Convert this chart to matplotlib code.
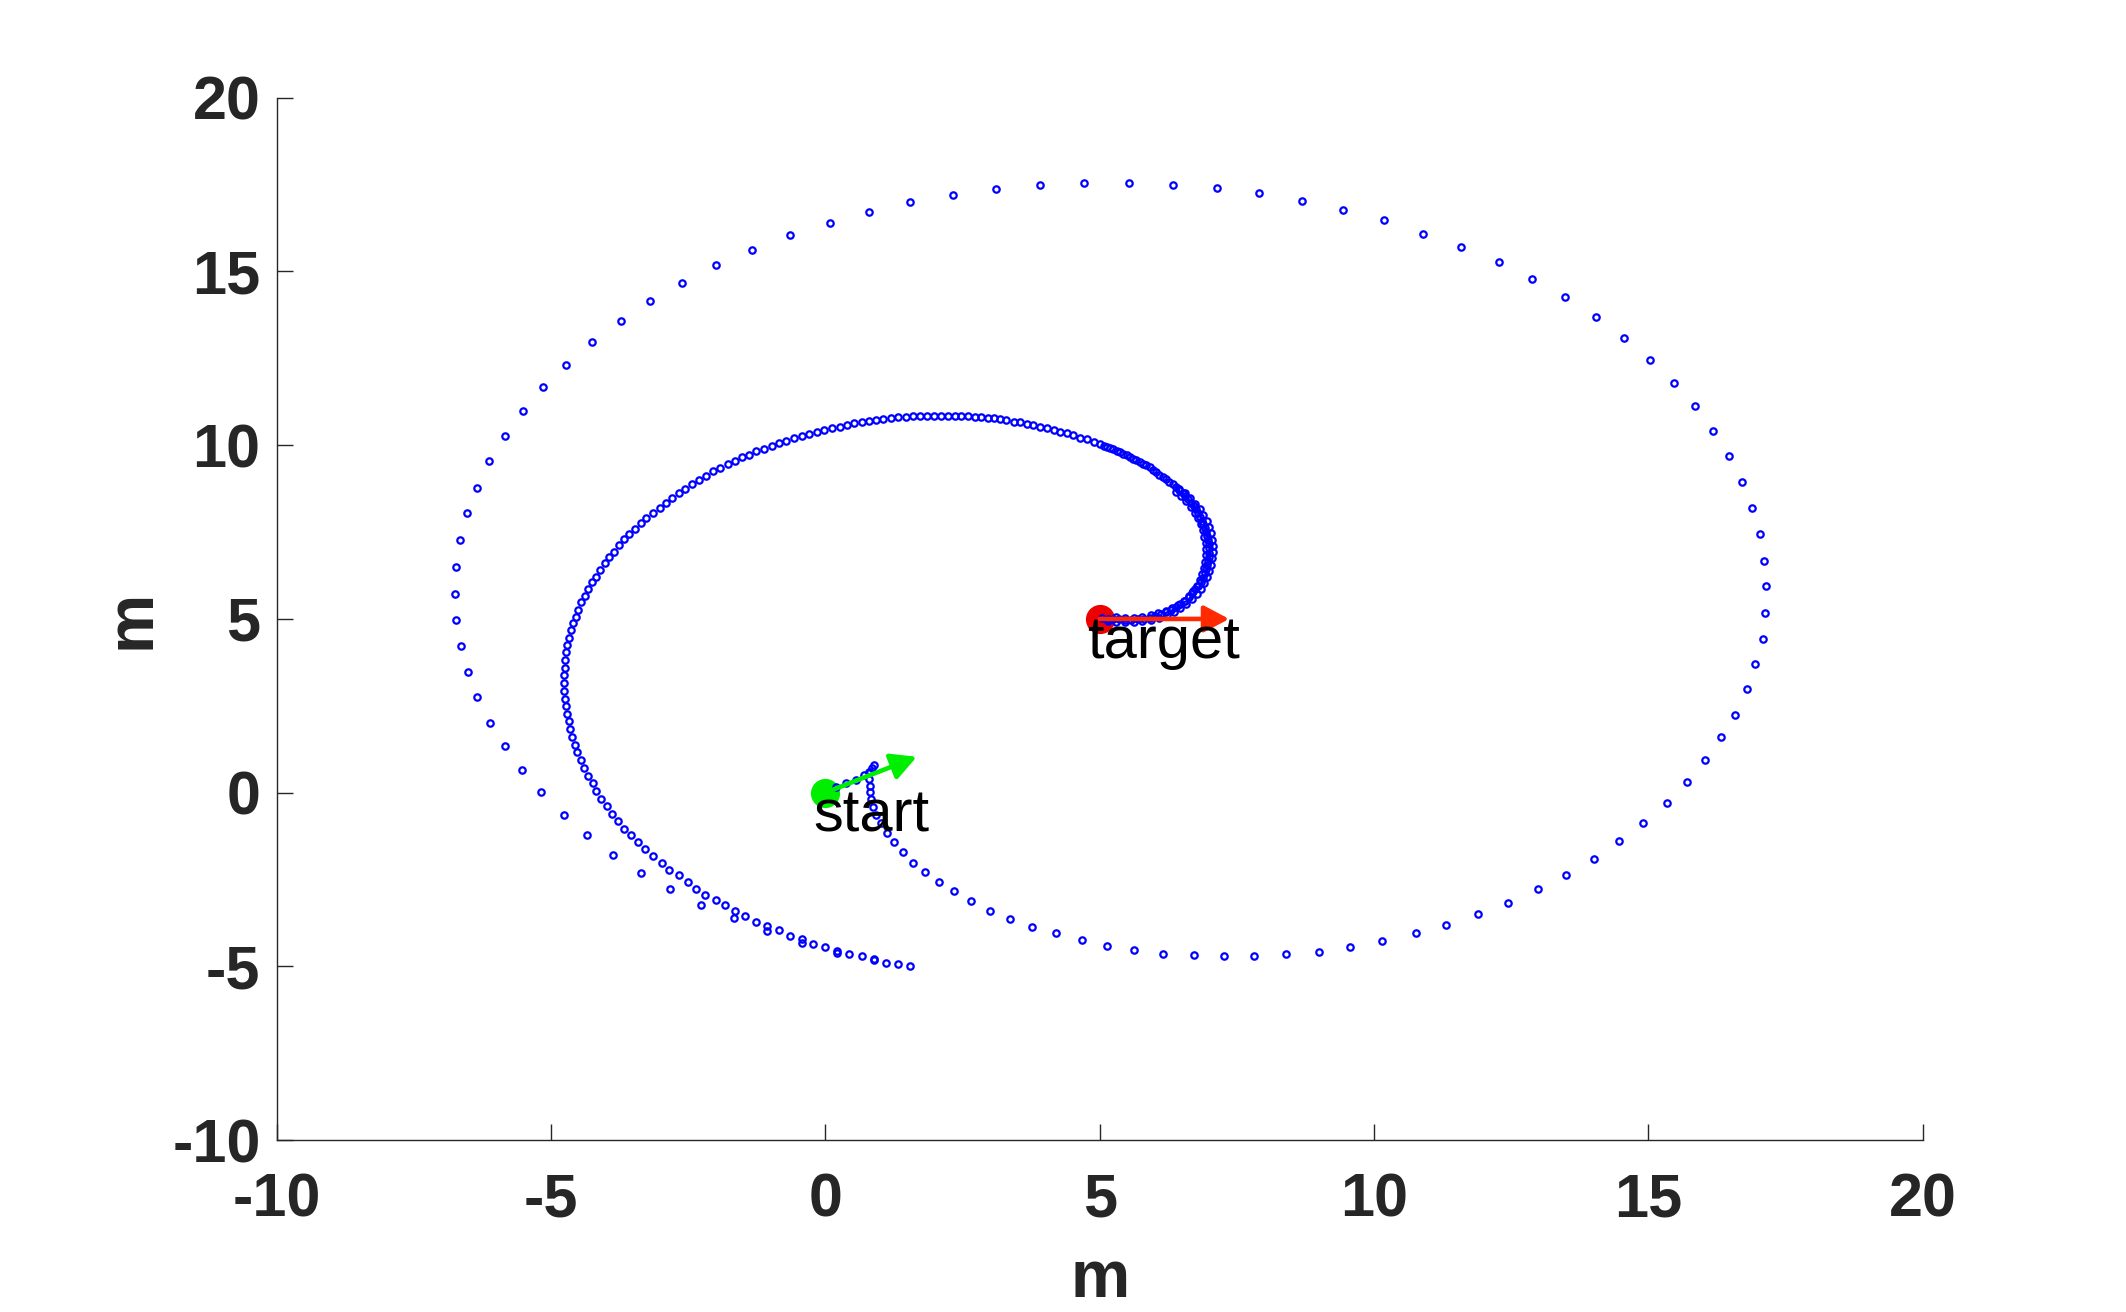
import matplotlib
matplotlib.use('Agg')
import matplotlib.pyplot as plt
import numpy as np

plt.rcParams['font.family'] = ['Liberation Sans', 'DejaVu Sans']
plt.rcParams['axes.unicode_minus'] = False

# first leg: start -> big outer loop (sparse samples)
outer_x = [0.19, 0.38, 0.56, 0.70, 0.79, 0.85, 0.89, 0.82, 0.79, 0.81, 0.81, 0.83, 0.86, 0.93,
           1.02, 1.13, 1.26, 1.42, 1.60, 1.82, 2.07, 2.34, 2.65, 3.00, 3.37, 3.77, 4.21, 4.67,
           5.14, 5.63, 6.15, 6.71, 7.26, 7.81, 8.40, 8.99, 9.57, 10.15, 10.76, 11.31, 11.89,
           12.44, 12.99, 13.50, 14.00, 14.46, 14.90, 15.33, 15.70, 16.04, 16.33, 16.58, 16.79,
           16.95, 17.08, 17.13, 17.15, 17.11, 17.04, 16.89, 16.70, 16.47, 16.18, 15.85, 15.47,
           15.03, 14.56, 14.04, 13.48, 12.88, 12.27, 11.59, 10.89, 10.19, 9.44, 8.69, 7.91,
           7.13, 6.33, 5.53, 4.72, 3.92, 3.11, 2.33, 1.55, 0.80, 0.08, -0.64, -1.34, -1.99,
           -2.61, -3.20, -3.73, -4.26, -4.72, -5.14, -5.51, -5.83, -6.12, -6.35, -6.53, -6.65,
           -6.73, -6.74, -6.73, -6.64, -6.51, -6.34, -6.11, -5.83, -5.53, -5.18, -4.77, -4.34,
           -3.87, -3.36, -2.83, -2.26, -1.66, -1.06, -0.43, 0.22, 0.88, 1.11, 1.33, 1.55]
outer_y = [0.15, 0.27, 0.38, 0.50, 0.61, 0.71, 0.79, 0.60, 0.39, 0.20, 0.01, -0.19, -0.42, -0.65,
           -0.88, -1.17, -1.43, -1.72, -2.01, -2.29, -2.58, -2.84, -3.13, -3.39, -3.62, -3.85,
           -4.05, -4.25, -4.40, -4.54, -4.63, -4.68, -4.71, -4.71, -4.65, -4.57, -4.45, -4.28,
           -4.05, -3.82, -3.50, -3.16, -2.78, -2.38, -1.92, -1.40, -0.88, -0.31, 0.30, 0.93,
           1.59, 2.25, 2.97, 3.69, 4.41, 5.16, 5.94, 6.68, 7.43, 8.18, 8.93, 9.68, 10.40, 11.12,
           11.78, 12.44, 13.07, 13.68, 14.25, 14.77, 15.26, 15.69, 16.09, 16.47, 16.76, 17.02,
           17.25, 17.39, 17.48, 17.53, 17.53, 17.48, 17.36, 17.19, 16.99, 16.70, 16.38, 16.04,
           15.61, 15.17, 14.66, 14.14, 13.56, 12.96, 12.32, 11.66, 10.97, 10.25, 9.53, 8.78,
           8.04, 7.27, 6.48, 5.73, 4.96, 4.21, 3.46, 2.74, 2.02, 1.33, 0.64, 0.01, -0.63, -1.23,
           -1.78, -2.30, -2.77, -3.22, -3.61, -3.99, -4.32, -4.60, -4.82, -4.89, -4.94, -4.99]

# second leg: inner spiral back to the target (dense samples)
inner_x = [0.88, 0.66, 0.44, 0.22, 0.00, -0.22, -0.43, -0.64, -0.85, -1.06, -1.26, -1.46, -1.64,
           -1.82, -2.00, -2.19, -2.35, -2.51, -2.67, -2.84, -2.98, -3.14, -3.28, -3.41, -3.54,
           -3.66, -3.78, -3.88, -3.98, -4.08, -4.17, -4.24, -4.32, -4.39, -4.46, -4.52, -4.57,
           -4.61, -4.66, -4.68, -4.71, -4.73, -4.75, -4.76, -4.76, -4.76, -4.75, -4.74, -4.72,
           -4.70, -4.67, -4.63, -4.59, -4.55, -4.51, -4.45, -4.38, -4.32, -4.25, -4.17, -4.10,
           -4.02, -3.94, -3.85, -3.76, -3.66, -3.57, -3.46, -3.35, -3.26, -3.14, -3.02, -2.91,
           -2.80, -2.67, -2.55, -2.43, -2.30, -2.17, -2.05, -1.92, -1.78, -1.65, -1.52, -1.39,
           -1.26, -1.12, -0.98, -0.85, -0.71, -0.57, -0.43, -0.29, -0.16, -0.02, 0.12, 0.26,
           0.39, 0.52, 0.66, 0.79, 0.93, 1.06, 1.20, 1.33, 1.47, 1.60, 1.73, 1.86, 1.98, 2.11,
           2.23, 2.36, 2.48, 2.60, 2.72, 2.84, 2.96, 3.07, 3.19, 3.30, 3.43, 3.55, 3.67, 3.79,
           3.91, 4.04, 4.16, 4.28, 4.40, 4.52, 4.64, 4.76, 4.89, 5.00, 5.07, 5.13, 5.19, 5.25,
           5.31, 5.37, 5.43, 5.49, 5.55, 5.61, 5.67, 5.73, 5.79, 5.85, 5.91, 5.97, 6.03, 6.09,
           6.15, 6.21, 6.27, 6.33, 6.39, 6.45, 6.51, 6.56, 6.61, 6.66, 6.71, 6.75, 6.79, 6.83,
           6.86, 6.89, 6.92, 6.94, 6.96, 6.98, 6.99, 6.99, 6.99, 6.99, 6.98, 6.96, 6.94, 6.92,
           6.88, 6.84, 6.79, 6.74, 6.68, 6.62, 6.55, 6.47, 6.39, 6.30, 6.21, 6.11, 6.01, 5.91,
           5.80, 5.69, 5.58, 5.47, 5.36, 5.25, 5.15, 5.05]
inner_y = [-4.79, -4.71, -4.63, -4.55, -4.45, -4.34, -4.22, -4.11, -3.96, -3.84, -3.71, -3.56,
           -3.41, -3.24, -3.10, -2.93, -2.76, -2.58, -2.38, -2.21, -2.01, -1.83, -1.63, -1.43,
           -1.23, -1.03, -0.80, -0.60, -0.39, -0.17, 0.04, 0.27, 0.49, 0.71, 0.93, 1.16, 1.38,
           1.59, 1.82, 2.05, 2.27, 2.49, 2.71, 2.94, 3.16, 3.38, 3.60, 3.82, 4.04, 4.24, 4.45,
           4.67, 4.87, 5.07, 5.27, 5.48, 5.66, 5.85, 6.05, 6.22, 6.42, 6.60, 6.77, 6.93, 7.12,
           7.29, 7.44, 7.60, 7.75, 7.89, 8.04, 8.20, 8.34, 8.49, 8.61, 8.75, 8.87, 9.00, 9.12,
           9.25, 9.35, 9.46, 9.55, 9.66, 9.73, 9.82, 9.90, 9.98, 10.05, 10.13, 10.20, 10.26,
           10.32, 10.38, 10.43, 10.49, 10.53, 10.58, 10.63, 10.66, 10.69, 10.72, 10.75, 10.77,
           10.80, 10.82, 10.83, 10.84, 10.84, 10.84, 10.84, 10.84, 10.84, 10.84, 10.83, 10.82,
           10.80, 10.79, 10.77, 10.74, 10.72, 10.68, 10.66, 10.62, 10.57, 10.53, 10.48, 10.43,
           10.39, 10.34, 10.28, 10.22, 10.17, 10.10, 10.03, 9.99, 9.95, 9.91, 9.88, 9.84, 9.80,
           9.75, 9.71, 9.66, 9.61, 9.56, 9.51, 9.47, 9.42, 9.36, 9.29, 9.22, 9.15, 9.08, 9.02,
           8.95, 8.87, 8.79, 8.71, 8.63, 8.54, 8.45, 8.35, 8.25, 8.15, 8.05, 7.94, 7.83, 7.72,
           7.61, 7.50, 7.39, 7.27, 7.15, 7.03, 6.91, 6.79, 6.67, 6.55, 6.43, 6.31, 6.19, 6.07,
           5.96, 5.85, 5.74, 5.63, 5.53, 5.44, 5.35, 5.27, 5.20, 5.13, 5.08, 5.04, 5.01, 4.99,
           4.98, 4.98, 4.99, 5.00, 5.01, 5.02]

# last slow approach: extra samples across the thick band (outer and inner side)
band_out_x = [6.45, 6.55, 6.65, 6.74, 6.82, 6.89, 6.95, 7.00, 7.03, 7.05, 7.06, 7.06, 7.05,
              7.03, 7.00, 6.96, 6.91, 6.85, 6.77, 6.68, 6.58, 6.47, 6.35, 6.22, 6.08, 5.93,
              5.78, 5.62, 5.46, 5.30, 5.15]
band_out_y = [8.75, 8.62, 8.47, 8.32, 8.16, 8.00, 7.83, 7.65, 7.47, 7.28, 7.10, 6.92, 6.74,
              6.56, 6.38, 6.20, 6.03, 5.87, 5.71, 5.56, 5.43, 5.31, 5.20, 5.11, 5.03, 4.97,
              4.93, 4.91, 4.91, 4.92, 4.94]
band_in_x = [6.40, 6.49, 6.58, 6.66, 6.73, 6.79, 6.84, 6.88, 6.91, 6.93, 6.93, 6.93, 6.92,
             6.90, 6.86, 6.82, 6.77, 6.70, 6.62, 6.53, 6.43, 6.32, 6.20, 6.07, 5.93, 5.78,
             5.62, 5.46, 5.30]
band_in_y = [8.66, 8.53, 8.38, 8.22, 8.06, 7.90, 7.73, 7.55, 7.37, 7.19, 7.01, 6.83, 6.65,
             6.47, 6.29, 6.12, 5.96, 5.80, 5.66, 5.53, 5.41, 5.31, 5.23, 5.16, 5.10, 5.06,
             5.04, 5.04, 5.05]

start_xy = (0.0, 0.0)
start_dir = (1.666, 1.033)
target_xy = (5.0, 5.0)
target_dir = (2.36, 0.0)
labels = ['start', 'target']

fig = plt.figure(figsize=(21.26, 13.12), dpi=100)
ax = fig.add_axes([0.1301, 0.1309, 0.7743, 0.7947])

ax.plot(*start_xy, 'o', color='#00ee00', ms=20, zorder=2)
ax.plot(*target_xy, 'o', color='#ee0000', ms=20, zorder=2)

mk = dict(ls='none', marker='o', mfc='none', mec='blue', ms=4.6, mew=1.6, zorder=3)
ax.plot(outer_x, outer_y, **mk)
ax.plot(inner_x, inner_y, **mk)
ax.plot(band_out_x, band_out_y, **mk)
ax.plot(band_in_x, band_in_y, **mk)

for p, d, c in [(start_xy, start_dir, '#00ee00'), (target_xy, target_dir, '#ff2a00')]:
    ax.annotate('', xy=(p[0] + d[0], p[1] + d[1]), xytext=p,
                arrowprops=dict(arrowstyle='-|>,head_length=0.85,head_width=0.45',
                                mutation_scale=18, color=c, lw=3.3,
                                shrinkA=0, shrinkB=0), zorder=4)

for p, t in zip([start_xy, target_xy], labels):
    ax.text(p[0] - 0.22, p[1] - 1.12, t, fontsize=43, color='black',
            va='baseline', ha='left', zorder=5)

ax.set_xlim(-10, 20)
ax.set_ylim(-10, 20)
ax.set_xticks(np.arange(-10, 21, 5))
ax.set_yticks(np.arange(-10, 21, 5))

for s in ['top', 'right']:
    ax.spines[s].set_visible(False)
for s in ['left', 'bottom']:
    ax.spines[s].set_color('#262626')
    ax.spines[s].set_linewidth(1.0)

ax.tick_params(axis='both', direction='in', length=11.5, width=1.0, color='#262626',
               labelsize=44, labelcolor='#262626')
ax.tick_params(axis='x', pad=23)
ax.tick_params(axis='y', pad=11.5)
for lab in ax.get_xticklabels() + ax.get_yticklabels():
    lab.set_fontweight('bold')

ax.set_xlabel('m', fontsize=48, fontweight='bold', color='#262626', labelpad=14)
ax.set_ylabel('m', fontsize=48, fontweight='bold', color='#262626', labelpad=6)

fig.savefig('out.png', dpi=100)
